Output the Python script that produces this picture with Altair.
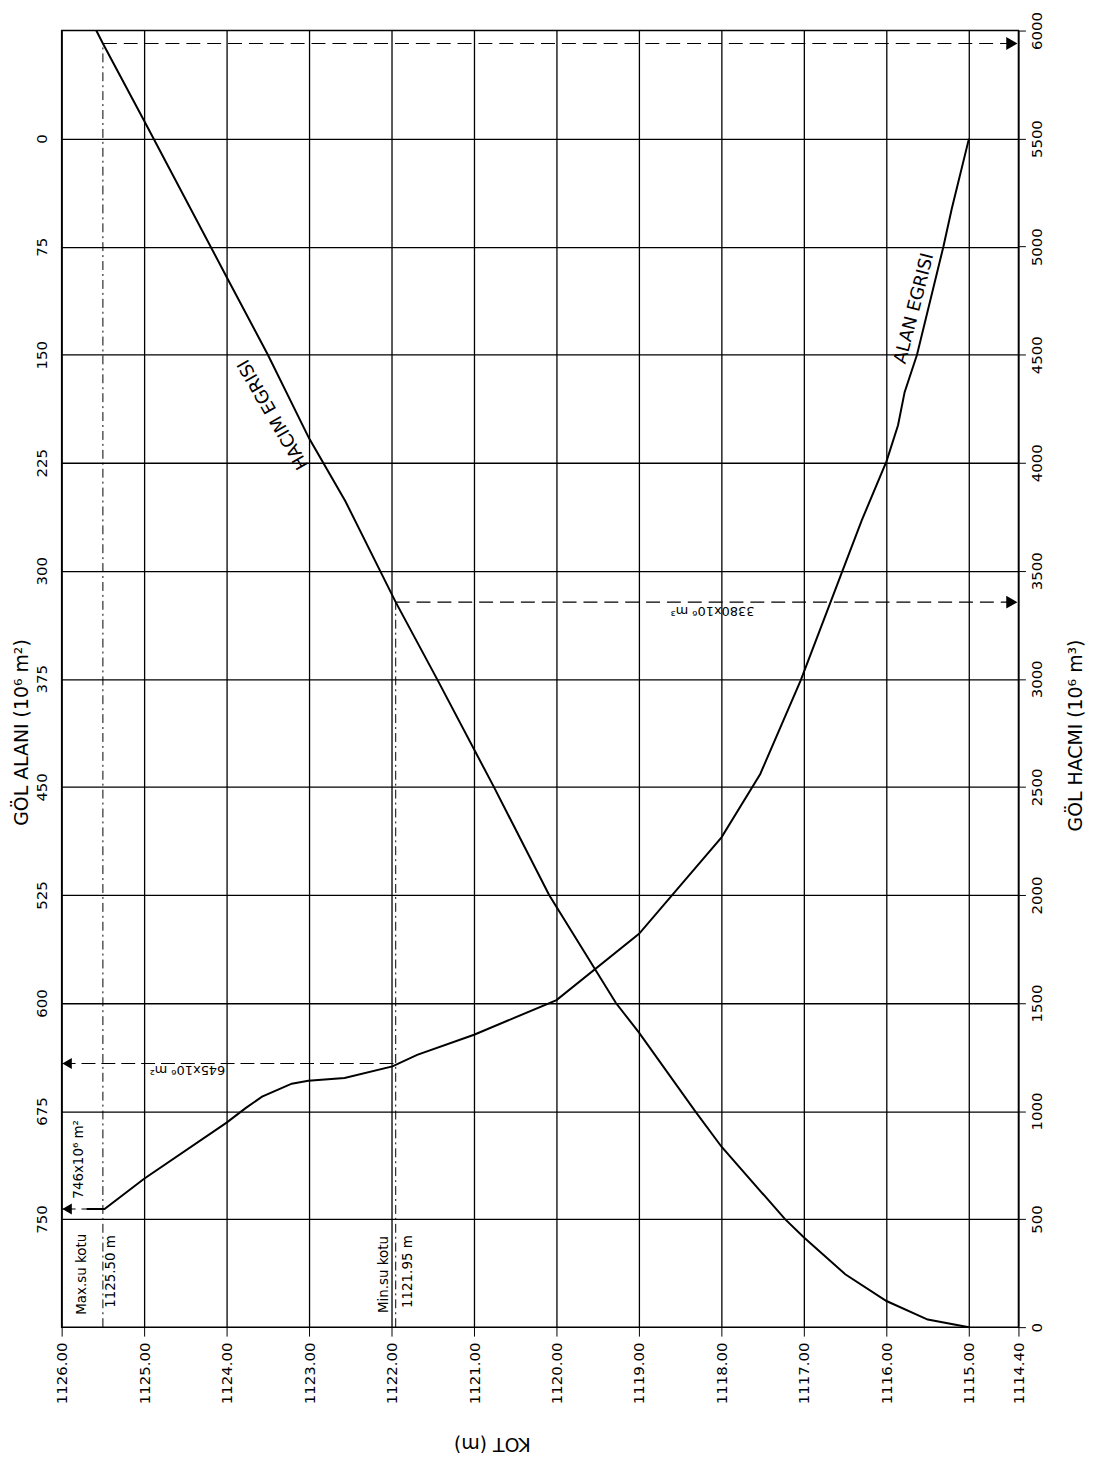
import altair as alt
import pandas as pd

FONT = "DejaVu Sans"

# ---- axis ticks ----
kot_ticks = [1126, 1125, 1124, 1123, 1122, 1121, 1120, 1119, 1118, 1117, 1116, 1115, 1114.4]
area_ticks = [0, 75, 150, 225, 300, 375, 450, 525, 600, 675, 750]
vol_ticks = [0, 500, 1000, 1500, 2000, 2500, 3000, 3500, 4000, 4500, 5000, 5500, 6000]

# ---- volume curve (HACIM EGRISI): KOT (m) vs volume (10^6 m3) ----
vol_kot = [1125.58, 1125.50, 1125.00, 1124.00, 1123.50, 1123.00, 1122.56, 1121.95,
           1121.45, 1120.76, 1120.09, 1119.28, 1119.00, 1118.32, 1118.00, 1117.23,
           1117.00, 1116.50, 1116.00, 1115.50, 1115.00]
vol_val = [6000, 5940, 5583, 4860, 4500, 4113, 3822, 3355,
           3000, 2500, 2000, 1500, 1363, 1000, 835, 500,
           415, 245, 121, 35, 0]

# ---- area curve (ALAN EGRISI): KOT (m) vs area (10^6 m2) ----
area_kot = [1125.70, 1125.48, 1125.00, 1124.00, 1123.77, 1123.57, 1123.21, 1123.01,
            1122.57, 1121.99, 1121.69, 1121.00, 1120.00, 1119.00, 1118.00, 1117.53,
            1117.04, 1116.30, 1116.00, 1115.86, 1115.78, 1115.63, 1115.31, 1115.21, 1115.00]
area_val = [743, 743, 722, 683, 673, 665, 656, 654,
            652, 644, 636, 622, 598, 552, 485, 441,
            376, 265, 224, 199, 176, 150, 75, 49, 0]

# ---- reference levels ----
max_kot = 1125.50
min_kot = 1121.95
max_vol = 5940
min_vol = 3355
max_area = 743
min_area = 642
left_edge = 1126.0
right_edge = 1114.4

# arrow heads (at the axes)
arrow_r_kot = [1114.48, 1114.48]
arrow_r_vol = [max_vol, min_vol]
arrow_l_kot = [1125.934, 1125.934]
arrow_l_area = [max_area, min_area]

# ---- annotation texts ----
vert_txt = ["746x10⁶ m²", "Max.su kotu", "1125.50 m", "Min.su kotu", "1121.95 m"]
vert_kot = [1125.743, 1125.70, 1125.35, 1122.049, 1121.748]
vert_area = [735.8, 816.4, 811.6, 815.2, 811.7]

a180_txt = ["645x10⁶ m²"]
a180_kot = [1124.016]
a180_area = [644.0]

v180_txt = ["3380x10⁶ m³"]
v180_kot = [1117.60]
v180_vol = [3332]

curve_names = ["HACIM EGRISI", "ALAN EGRISI"]
hacim_pos = (1123.43, 4225, 240)
alan_pos = (1115.66, 118, 284.4)

# ---------------- encodings ----------------
x_axis = alt.Axis(
    values=kot_ticks, format=".2f", labelAngle=270, labelAlign="right",
    labelBaseline="middle", labelFont=FONT, labelFontSize=15, labelColor="black",
    tickSize=9, tickColor="black", labelPadding=6, grid=True, gridColor="black",
    gridWidth=1.3, gridOpacity=1, domain=False,
    title="KOT  (m)", titleFont=FONT, titleFontSize=19, titleFontWeight="normal",
    titleAngle=180, titleAlign="center", titleBaseline="middle",
    titleX=433, titleY=117, titleColor="black",
)
x_scale = alt.Scale(domain=[1114.4, 1126], reverse=True, nice=False, zero=False)

a_axis = alt.Axis(
    values=area_ticks, format="d", labelAngle=270, labelAlign="center",
    labelBaseline="bottom", labelFont=FONT, labelFontSize=15, labelColor="black",
    ticks=False, tickSize=0, labelPadding=12, grid=True, gridColor="black",
    gridWidth=1.3, gridOpacity=1, domain=False, orient="left",
    title="GÖL  ALANI  (10⁶ m²)", titleFont=FONT, titleFontSize=19,
    titleFontWeight="normal", titleAngle=270, titleAlign="center",
    titleBaseline="middle", titleX=-40, titleY=706, titleColor="black",
)
a_scale = alt.Scale(domain=[-75, 825], reverse=True, nice=False, zero=False)

v_axis = alt.Axis(
    values=vol_ticks, format="d", labelAngle=270, labelAlign="center",
    labelBaseline="top", labelFont=FONT, labelFontSize=15, labelColor="black",
    tickSize=7, tickColor="black", labelPadding=4, grid=False, domain=False,
    orient="right",
    title="GÖL  HACMI  (10⁶ m³)", titleFont=FONT, titleFontSize=19,
    titleFontWeight="normal", titleAngle=270, titleAlign="center",
    titleBaseline="middle", titleX=57, titleY=709, titleColor="black",
)
v_scale = alt.Scale(domain=[0, 6000], nice=False, zero=False)


def X(field="K"):
    return alt.X(f"{field}:Q", scale=x_scale, axis=x_axis)


def YA(field="A"):
    return alt.Y(f"{field}:Q", scale=a_scale, axis=a_axis)


def YV(field="V"):
    return alt.Y(f"{field}:Q", scale=v_scale, axis=v_axis)


# ---------------- area-based layers ----------------
area_df = pd.DataFrame({"K": area_kot, "A": area_val})
area_line = alt.Chart(area_df).mark_line(color="black", strokeWidth=2).encode(
    x=X(), y=YA(), order=alt.Order("K:Q")
)

a_hrules_df = pd.DataFrame({
    "K": [left_edge, left_edge], "K2": [area_kot[0], min_kot],
    "A": [max_area, min_area],
})
a_hrules = alt.Chart(a_hrules_df).mark_rule(
    color="black", strokeWidth=1.2, strokeDash=[14, 6]
).encode(x=X(), x2="K2:Q", y=YA())

a_arrows = alt.Chart(pd.DataFrame({"K": arrow_l_kot, "A": arrow_l_area})).mark_point(
    shape="triangle-left", filled=True, size=120, color="black", opacity=1
).encode(x=X(), y=YA())

vert_df = pd.DataFrame({"K": vert_kot, "A": vert_area, "t": vert_txt})
vert_text = alt.Chart(vert_df).mark_text(
    angle=270, align="left", baseline="alphabetic", font=FONT, fontSize=13.5,
    color="black"
).encode(x=X(), y=YA(), text="t:N")

a180_df = pd.DataFrame({"K": a180_kot, "A": a180_area, "t": a180_txt})
a180_text = alt.Chart(a180_df).mark_text(
    angle=180, align="left", baseline="alphabetic", font=FONT, fontSize=13,
    color="black"
).encode(x=X(), y=YA(), text="t:N")

alan_df = pd.DataFrame({"K": [alan_pos[0]], "A": [alan_pos[1]], "ang": [alan_pos[2]],
                        "t": [curve_names[1]]})
alan_text = alt.Chart(alan_df).mark_text(
    align="center", baseline="middle", font=FONT, fontSize=18, color="black"
).encode(x=X(), y=YA(), text="t:N", angle=alt.Angle("ang:Q", scale=None))

area_group = alt.layer(area_line, a_hrules, a_arrows, vert_text, a180_text, alan_text)

# ---------------- volume-based layers ----------------
vol_df = pd.DataFrame({"K": vol_kot, "V": vol_val})
vol_line = alt.Chart(vol_df).mark_line(color="black", strokeWidth=2).encode(
    x=X(), y=YV(), order=alt.Order("K:Q")
)

v_hrules_df = pd.DataFrame({
    "K": [max_kot, min_kot], "K2": [right_edge, right_edge],
    "V": [max_vol, min_vol],
})
v_hrules = alt.Chart(v_hrules_df).mark_rule(
    color="black", strokeWidth=1.2, strokeDash=[14, 7]
).encode(x=X(), x2="K2:Q", y=YV())

v_vrules_df = pd.DataFrame({
    "K": [max_kot, min_kot], "V": [0, 0], "V2": [max_vol, min_vol],
})
v_vrules = alt.Chart(v_vrules_df).mark_rule(
    color="black", strokeWidth=1.0, strokeDash=[9, 4, 2, 4]
).encode(x=X(), y=YV(), y2="V2:Q")

v_arrows = alt.Chart(pd.DataFrame({"K": arrow_r_kot, "V": arrow_r_vol})).mark_point(
    shape="triangle-right", filled=True, size=170, color="black", opacity=1
).encode(x=X(), y=YV())

v180_df = pd.DataFrame({"K": v180_kot, "V": v180_vol, "t": v180_txt})
v180_text = alt.Chart(v180_df).mark_text(
    angle=180, align="left", baseline="alphabetic", font=FONT, fontSize=13,
    color="black"
).encode(x=X(), y=YV(), text="t:N")

hacim_df = pd.DataFrame({"K": [hacim_pos[0]], "V": [hacim_pos[1]], "ang": [hacim_pos[2]],
                         "t": [curve_names[0]]})
hacim_text = alt.Chart(hacim_df).mark_text(
    align="center", baseline="middle", font=FONT, fontSize=18, color="black"
).encode(x=X(), y=YV(), text="t:N", angle=alt.Angle("ang:Q", scale=None))

vol_group = alt.layer(vol_line, v_hrules, v_vrules, v_arrows, v180_text, hacim_text)

chart = (
    alt.layer(area_group, vol_group)
    .resolve_scale(y="independent")
    .properties(
        width=963, height=1305,
        autosize=alt.AutoSizeParams(type="none"),
        padding={"left": 54, "top": 18, "right": 70, "bottom": 130},
        background="white",
    )
    .configure_view(stroke="black", strokeWidth=1.5)
)

chart.save("out.html", embed_options={"renderer": "svg", "actions": False})
